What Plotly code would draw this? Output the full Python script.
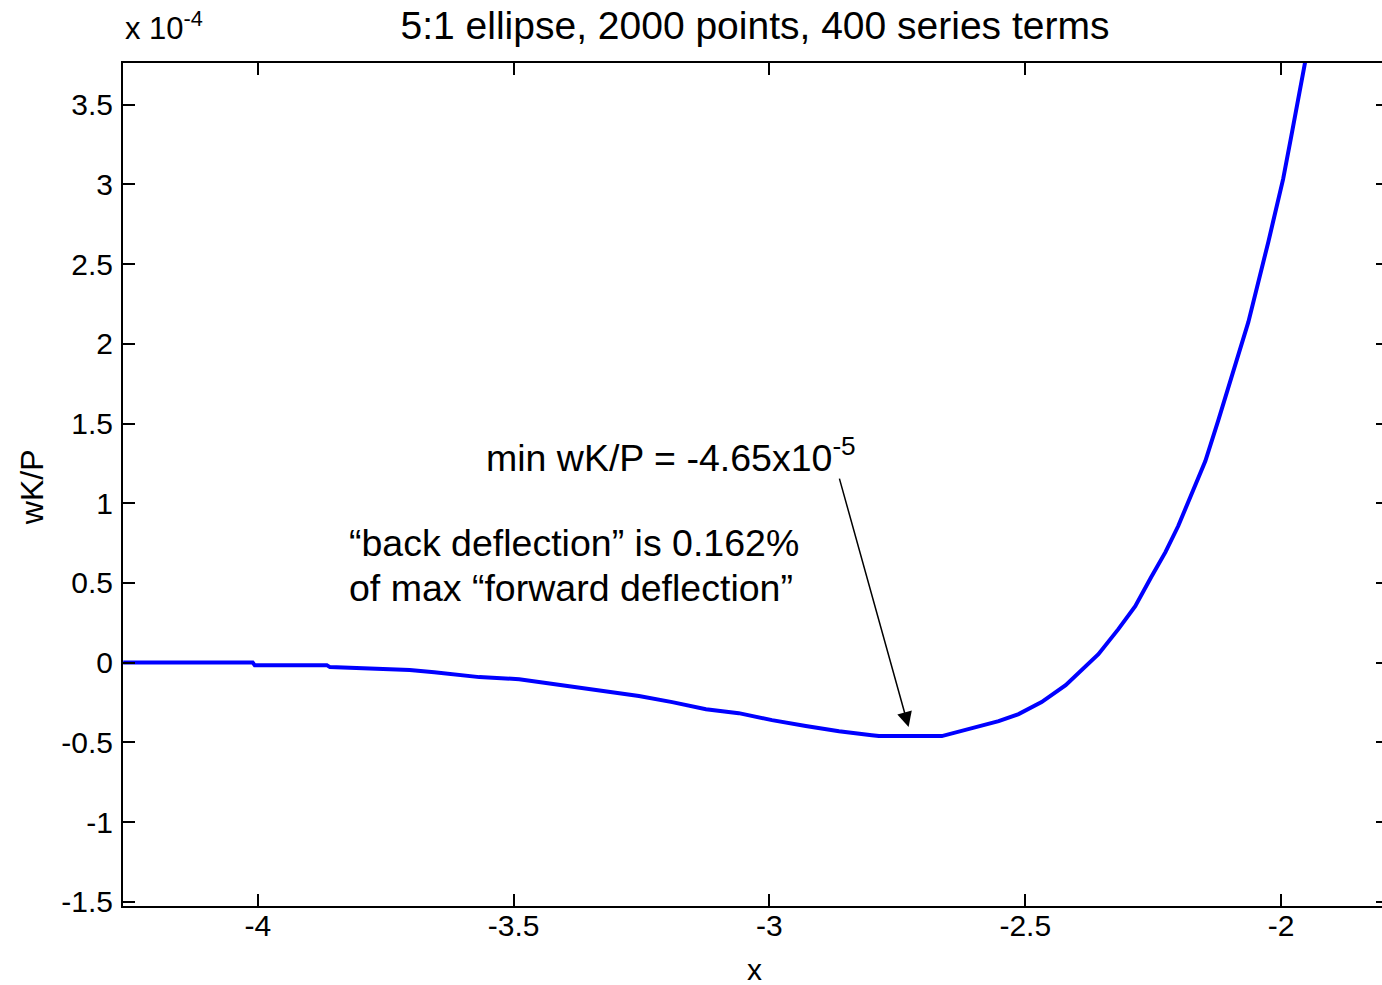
import plotly.graph_objects as go

# Data (wK/P in units of 1e-4)
x_vals = [-4.263, -4.010, -4.006, -3.865, -3.859, -3.781, -3.703, -3.655, -3.606, -3.567,
          -3.489, -3.450, -3.385, -3.319, -3.255, -3.190, -3.124, -3.060, -2.995, -2.929,
          -2.864, -2.800, -2.786, -2.663, -2.617, -2.552, -2.513, -2.468, -2.421, -2.357,
          -2.318, -2.285, -2.254, -2.226, -2.201, -2.176, -2.148, -2.123, -2.109, -2.098,
          -2.064, -2.025, -1.996, -1.980, -1.953]
w_vals = [0.000, 0.000, -0.016, -0.016, -0.028, -0.035, -0.047, -0.060, -0.078, -0.091,
          -0.104, -0.122, -0.154, -0.179, -0.210, -0.248, -0.292, -0.317, -0.361, -0.398,
          -0.430, -0.455, -0.461, -0.461, -0.423, -0.367, -0.323, -0.248, -0.141, 0.053,
          0.210, 0.354, 0.536, 0.693, 0.857, 1.045, 1.265, 1.516, 1.666, 1.779,
          2.136, 2.638, 3.033, 3.303, 3.767]

x_ticks = [-4, -3.5, -3, -2.5, -2]
x_tick_text = ["-4", "-3.5", "-3", "-2.5", "-2"]
y_ticks = [-1.5, -1, -0.5, 0, 0.5, 1, 1.5, 2, 2.5, 3, 3.5]
y_tick_text = ["-1.5", "-1", "-0.5", "0", "0.5", "1", "1.5", "2", "2.5", "3", "3.5"]

title_text = "5:1 ellipse, 2000 points, 400 series terms"
min_text = "min wK/P = -4.65x10<sup>-5</sup>"
back_line1 = "“back deflection” is 0.162%"
back_line2 = "of max “forward deflection”"
arrow_tip = (-2.728, -0.404)
arrow_tail = (-2.864, 1.164)

FONT = "Liberation Sans, Arial, Helvetica, sans-serif"

fig = go.Figure()
fig.add_trace(go.Scatter(x=x_vals, y=w_vals, mode="lines",
                         line=dict(color="#0000ff", width=4), showlegend=False))

axis_common = dict(showline=True, linecolor="black", linewidth=2, mirror="ticks",
                   ticks="inside", ticklen=12, tickwidth=1.5, tickcolor="black",
                   showgrid=False, zeroline=False,
                   tickfont=dict(family=FONT, size=30, color="black"))

fig.update_xaxes(range=[-4.2634, -1.791], tickvals=x_ticks, ticktext=x_tick_text,
                 ticklabelstandoff=-8, **axis_common)
fig.update_yaxes(range=[-1.527, 3.762], tickvals=y_ticks, ticktext=y_tick_text,
                 ticklabelstandoff=2, **axis_common)

fig.update_layout(
    width=1390, height=985,
    margin=dict(l=123, r=0, t=63, b=79),
    paper_bgcolor="white", plot_bgcolor="white",
    title=dict(text=title_text, x=(756 - 123) / 1267, xref="paper", xanchor="center",
               y=0.9746, yref="container", yanchor="middle",
               font=dict(family=FONT, size=39, color="black")),
    font=dict(family=FONT, color="black"),
)

ann_font = dict(family=FONT, size=37.5, color="black")
annots = [
    # arrow
    dict(x=arrow_tip[0], y=arrow_tip[1], ax=arrow_tail[0], ay=arrow_tail[1],
         xref="x", yref="y", axref="x", ayref="y", text="", showarrow=True,
         arrowhead=2, arrowsize=2, arrowwidth=1.5, arrowcolor="black"),
    dict(x=-3.557, y=1.302, xref="x", yref="y", text=min_text, showarrow=False,
         xanchor="left", yanchor="middle", font=ann_font),
    dict(x=-3.826, y=0.750, xref="x", yref="y", text=back_line1, showarrow=False,
         xanchor="left", yanchor="middle", font=ann_font),
    dict(x=-3.826, y=0.468, xref="x", yref="y", text=back_line2, showarrow=False,
         xanchor="left", yanchor="middle", font=ann_font),
    dict(x=0, y=1.0178, xref="paper", yref="paper", text="x 10<sup>-4</sup>", showarrow=False,
         xanchor="left", yanchor="bottom", font=dict(family=FONT, size=31, color="black")),
    dict(x=(32 - 123) / 1267, y=0.497, xref="paper", yref="paper", text="wK/P", showarrow=False,
         textangle=-90, xanchor="center", yanchor="middle",
         font=dict(family=FONT, size=32, color="black")),
    dict(x=(755 - 123) / 1267, y=-0.0759, xref="paper", yref="paper", text="x", showarrow=False,
         xanchor="center", yanchor="middle", font=dict(family=FONT, size=30, color="black")),
]
fig.update_layout(annotations=annots)

fig.write_html(
    "out.html",
    config={"displayModeBar": False},
    post_script=("document.body.style.margin='0';"
                 "document.body.style.overflow='hidden';"
                 "document.documentElement.style.overflow='hidden';"),
)
